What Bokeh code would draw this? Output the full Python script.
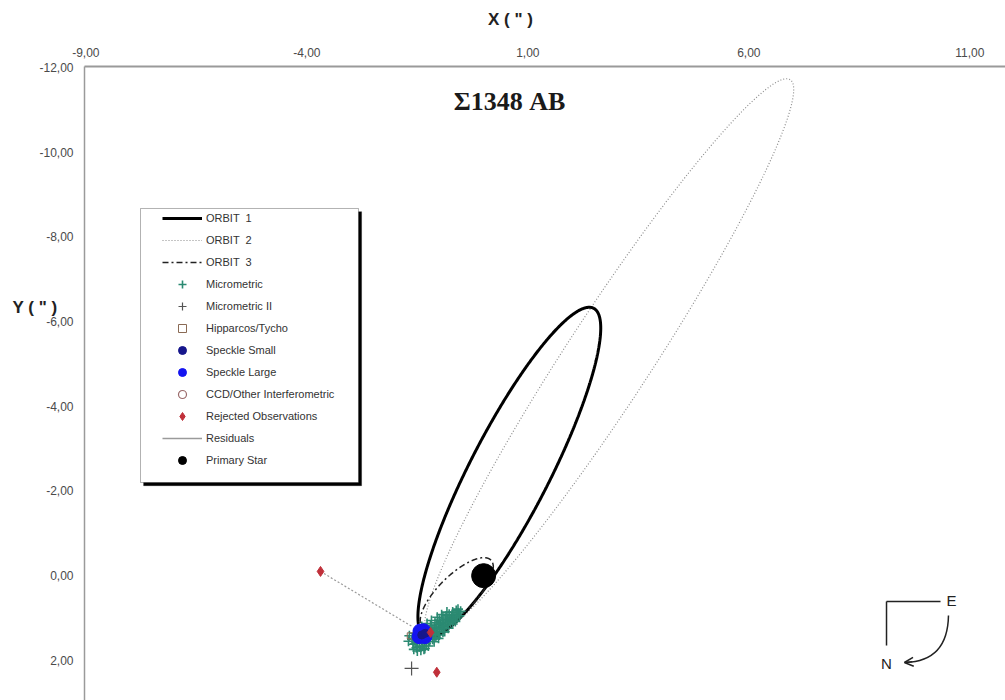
import numpy as np
from bokeh.plotting import figure
from bokeh.models import (Range1d, FixedTicker, Label, Legend, LegendItem,
                          BoxAnnotation, Arrow, OpenHead, LinearAxis)
from bokeh.embed import file_html
from bokeh.resources import INLINE

# ---------------- data (arcsec) ----------------
# points traced around the three apparent orbits
orbit1_x = [2.38, 2.62, 2.53, 2.31, 1.67, 1.13, 0.32, -0.07, -0.48, -1.47,
            -1.43, -1.24, -0.90, -0.29, 0.61, 1.52]
orbit1_y = [-6.38, -5.96, -5.16, -4.15, -2.56, -1.54, -0.13, 0.42, 0.98, 1.24,
            0.82, -0.36, -1.54, -2.72, -4.37, -5.56]

orbit2_x = [6.72, 6.90, 6.72, 6.27, 5.59, 4.46, 3.10, 2.19, 1.67, 1.13,
            6.43, 5.75, 4.46, 3.48, 2.49, 1.29, 0.23, -0.36, -0.90, -1.27, -1.43]
orbit2_y = [-11.74, -11.38, -10.20, -9.02, -7.44, -5.86, -3.90, -2.56, -1.71, -0.67,
            -11.69, -10.91, -9.17, -7.84, -6.43, -4.78, -2.80, -1.14, 0.04, 0.82, 1.29]

orbit3_x = [-1.43, -1.15, -0.86, -0.48, -0.11, 0.11, 0.25, -0.07, -0.48, -1.05]
orbit3_y = [1.22, 0.51, 0.04, -0.29, -0.43, -0.36, -0.05, 0.42, 0.98, 1.20]

micro_x = [-1.62, -1.57, -1.52, -1.47, -1.42, -1.37, -1.32, -1.27, -1.22, -1.17, -1.12,
           -1.07, -1.02, -0.97, -0.92, -0.87, -0.82, -0.77, -0.72, -0.67, -0.62, -0.57,
           -1.60, -1.55, -1.50, -1.45, -1.40, -1.35, -1.30, -1.25, -1.20, -1.15, -1.10,
           -1.05, -1.00, -0.95, -0.90, -0.85, -0.80, -0.75,
           -1.55, -1.48, -1.40, -1.30, -1.20, -1.10, -1.00, -0.92, -0.85, -0.78, -0.70,
           -0.62, -0.58,
           -1.52, -1.45, -1.38, -1.30, -1.22, -1.15, -1.08, -1.00, -0.92,
           -1.68, -1.70, -1.42, -1.33, -0.68, -0.60, -0.52, -0.55,
           -1.58, -1.50, -1.35, -1.25, -1.12, -1.02, -0.88, -0.80, -0.70, -0.64,
           -1.40, -1.28, -1.18, -1.05, -0.95, -0.83]
micro_y = [1.50, 1.48, 1.46, 1.44, 1.40, 1.38, 1.35, 1.31, 1.28, 1.25, 1.22,
           1.19, 1.16, 1.13, 1.10, 1.07, 1.04, 1.01, 0.98, 0.95, 0.92, 0.88,
           1.62, 1.60, 1.58, 1.55, 1.53, 1.50, 1.47, 1.44, 1.40, 1.37, 1.34,
           1.31, 1.27, 1.24, 1.20, 1.17, 1.14, 1.10,
           1.36, 1.32, 1.28, 1.23, 1.17, 1.11, 1.05, 1.00, 0.95, 0.91, 0.86,
           0.82, 0.79,
           1.70, 1.68, 1.66, 1.60, 1.55, 1.50, 1.45, 1.40, 1.33,
           1.42, 1.55, 1.76, 1.72, 1.05, 1.00, 0.84, 0.95,
           1.74, 1.78, 1.74, 1.66, 1.56, 1.48, 1.32, 1.24, 1.14, 1.08,
           1.20, 1.13, 1.06, 0.98, 0.92, 0.86]

micro2_x = [-1.63]
micro2_y = [2.19]

hip_x = [-1.66]
hip_y = [1.42]

speckle_small_x = [-1.40, -1.32]
speckle_small_y = [1.40, 1.36]

speckle_large_x = [-1.42, -1.36, -1.46, -1.33, -1.44]
speckle_large_y = [1.38, 1.30, 1.44, 1.44, 1.31]

ccd_x = [np.nan]
ccd_y = [np.nan]

rejected_x = [-3.69, -1.06, -1.20]
rejected_y = [-0.10, 2.28, 1.34]

# residual: from rejected observation to its predicted position
resid_x0, resid_y0 = [-3.69], [-0.10]
resid_x1, resid_y1 = [-1.62], [1.20]

primary_x = [0.0]
primary_y = [0.0]

x_ticks = [-9, -4, 1, 6, 11]
y_ticks = [-12, -10, -8, -6, -4, -2, 0, 2]


def fmt(v):
    return f"{v:.2f}".replace(".", ",")


def fit_ellipse(xs, ys, n=720, iters=25):
    """Gradient-weighted conic fit through the traced points, sampled as a closed curve."""
    x = np.asarray(xs, float)
    y = np.asarray(ys, float)
    D = np.column_stack([x * x, x * y, y * y, x, y, np.ones_like(x)])
    w = np.ones_like(x)
    for _ in range(iters):
        _, _, Vt = np.linalg.svd(D * w[:, None])
        A, B, C, Dd, E, F = Vt[-1]
        gx = 2 * A * x + B * y + Dd
        gy = B * x + 2 * C * y + E
        w = 1.0 / np.maximum(np.hypot(gx, gy), 1e-9)
    x0, y0 = np.linalg.solve(np.array([[2 * A, B], [B, 2 * C]]), [-Dd, -E])
    F0 = F + (Dd * x0 + E * y0) / 2.0
    Q = np.array([[A, B / 2.0], [B / 2.0, C]])
    ev, V = np.linalg.eigh(Q)
    ax = np.sqrt(np.abs(F0 / ev))
    t = np.linspace(0, 2 * np.pi, n)
    pts = V @ np.vstack([ax[0] * np.cos(t), ax[1] * np.sin(t)])
    return x0 + pts[0], y0 + pts[1]


o1x, o1y = fit_ellipse(orbit1_x, orbit1_y)
o2x, o2y = fit_ellipse(orbit2_x, orbit2_y)
o3x, o3y = fit_ellipse(orbit3_x, orbit3_y)

# ---------------- figure ----------------
p = figure(width=1005, height=700, output_backend="svg", toolbar_location=None,
           x_range=Range1d(-9.03, 11.807), y_range=Range1d(2.947, -12.02),
           x_axis_location="above", min_border_left=84, min_border_top=66,
           min_border_right=0, min_border_bottom=0)
p.outline_line_color = None
p.xgrid.visible = False
p.ygrid.visible = False
p.background_fill_color = "white"


def style_axis(ax_, ticks, labels, lw, so, size="12px", bold=False, color="#4a4a4a",
               line_color="#9a9a9a"):
    ax_.ticker = FixedTicker(ticks=ticks)
    ax_.major_label_overrides = dict(zip(ticks, labels))
    ax_.axis_line_color = line_color
    ax_.axis_line_width = lw
    ax_.major_tick_line_color = None
    ax_.minor_tick_line_color = None
    ax_.major_tick_out = 0
    ax_.major_tick_in = 0
    ax_.minor_tick_out = 0
    ax_.minor_tick_in = 0
    ax_.major_label_standoff = so
    ax_.major_label_text_font = "Liberation Sans"
    ax_.major_label_text_font_size = size
    ax_.major_label_text_color = color
    if bold:
        ax_.major_label_text_font_style = "bold"


style_axis(p.xaxis[0], x_ticks, [fmt(t) for t in x_ticks], 2, 10)
style_axis(p.yaxis[0], y_ticks, [fmt(t) for t in y_ticks], 1.5, 11)

# axis titles, drawn as the single labels of two extra outer axes
x_title_pos = [0.608]
y_title_pos = [-6.33]
xt = LinearAxis()
style_axis(xt, x_title_pos, ['X ( " )'], 1, 16, size="17px", bold=True,
           color="#222222", line_color=None)
p.add_layout(xt, "above")
yt = LinearAxis()
style_axis(yt, y_title_pos, ['Y ( " )'], 1, -21, size="17px", bold=True,
           color="#222222", line_color=None)
p.add_layout(yt, "left")

# orbits
r_o2 = p.line(o2x, o2y, line_color="#8c8c8c", line_width=1.2, line_dash="1 2")
r_o1 = p.line(o1x, o1y, line_color="black", line_width=3)
r_o3 = p.line(o3x, o3y, line_color="#222222", line_width=1.5, line_dash="6 3 2 3")

# residual
r_res = p.segment(x0=resid_x0, y0=resid_y0, x1=resid_x1, y1=resid_y1,
                  line_color="#9a9a9a", line_width=1.2, line_dash="2 2")
r_res_leg = p.line(x=[np.nan, np.nan], y=[np.nan, np.nan], line_color="#9a9a9a",
                   line_width=1.5)

# observations
r_mic = p.scatter(micro_x, micro_y, marker="cross", size=10, line_width=1.6,
                  line_color="#2b8a72")
r_mic2 = p.scatter(micro2_x, micro2_y, marker="cross", size=14, line_width=1.2,
                   line_color="#555555")
r_hip = p.scatter(hip_x, hip_y, marker="square", size=6, fill_color=None,
                  line_color="#8a6a55", line_width=1)
r_spl = p.scatter(speckle_large_x, speckle_large_y, marker="circle", size=14,
                  fill_color="#1414f0", line_color="#1414f0")
r_sps = p.scatter(speckle_small_x, speckle_small_y, marker="circle", size=8,
                  fill_color="#16168c", line_color="#16168c")
r_ccd = p.scatter(ccd_x, ccd_y, marker="circle", size=8, fill_color=None,
                  line_color="#9a6a6a", line_width=1.2)
r_rej = p.scatter(rejected_x, rejected_y, marker="diamond", size=10,
                  fill_color="#c0303a", line_color="#c0303a")
r_pri = p.scatter(primary_x, primary_y, marker="circle", size=24,
                  fill_color="black", line_color="black")

# ---------------- title ----------------
p.add_layout(Label(x=0.586, y=-11.194, text="\u03a31348 AB", text_align="center",
                   text_baseline="middle", text_font="Liberation Serif",
                   text_font_style="bold", text_font_size="26px", text_color="#1a1a1a"))

# ---------------- compass ----------------
comp_corner = (9.115, 0.610)
comp_e_end = 10.337
comp_n_end = 1.649
p.segment(x0=[comp_corner[0], comp_corner[0]], y0=[comp_corner[1], comp_corner[1]],
          x1=[comp_e_end, comp_corner[0]], y1=[comp_corner[1], comp_n_end],
          line_color="#222222", line_width=1.5)
p.quadratic(x0=[10.517], y0=[0.940], x1=[9.54], y1=[2.048], cx=[10.50], cy=[2.02],
            line_color="#222222", line_width=1.5)
p.add_layout(Arrow(x_start=9.70, y_start=2.035, x_end=9.52, y_end=2.050,
                   line_color="#222222", line_width=1.5,
                   end=OpenHead(size=9, line_color="#222222", line_width=1.5)))
p.add_layout(Label(x=10.585, y=0.586, text="E", text_align="center",
                   text_baseline="middle", text_font="Liberation Sans",
                   text_font_size="15px", text_color="#222222"))
p.add_layout(Label(x=9.115, y=2.073, text="N", text_align="center",
                   text_baseline="middle", text_font="Liberation Sans",
                   text_font_size="15px", text_color="#222222"))

# ---------------- legend ----------------
p.add_layout(BoxAnnotation(left=-7.763 + 0.07, right=-2.831 + 0.07,
                           top=-8.668 + 0.075, bottom=-2.199 + 0.075,
                           fill_color="black", fill_alpha=1, line_color="black"))
p.add_layout(BoxAnnotation(left=-7.763, right=-2.831, top=-8.668, bottom=-2.199,
                           fill_color="white", fill_alpha=1, line_color="black",
                           line_width=1))

items = [
    LegendItem(label="ORBIT  1", renderers=[r_o1]),
    LegendItem(label="ORBIT  2", renderers=[r_o2]),
    LegendItem(label="ORBIT  3", renderers=[r_o3]),
    LegendItem(label="Micrometric", renderers=[r_mic]),
    LegendItem(label="Micrometric II", renderers=[r_mic2]),
    LegendItem(label="Hipparcos/Tycho", renderers=[r_hip]),
    LegendItem(label="Speckle Small", renderers=[r_sps]),
    LegendItem(label="Speckle Large", renderers=[r_spl]),
    LegendItem(label="CCD/Other Interferometric", renderers=[r_ccd]),
    LegendItem(label="Rejected Observations", renderers=[r_rej]),
    LegendItem(label="Residuals", renderers=[r_res_leg]),
    LegendItem(label="Primary Star", renderers=[r_pri]),
]
legend = Legend(items=items, location=(78, 230), padding=0, margin=0, spacing=2,
                glyph_width=40, glyph_height=20, label_height=20, label_standoff=4,
                label_text_font="Liberation Sans", label_text_font_size="11px",
                label_text_color="#333333", border_line_color=None,
                background_fill_alpha=0)
p.add_layout(legend, "center")

open("out.html", "w").write(file_html(p, INLINE))
